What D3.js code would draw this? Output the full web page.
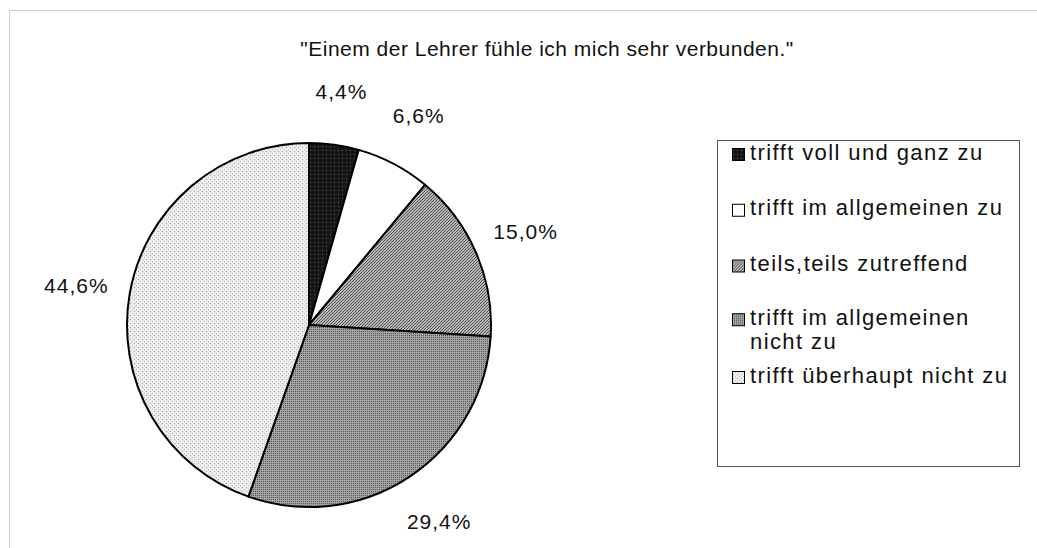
<!DOCTYPE html>
<html>
<head>
<meta charset="utf-8">
<script src="https://cdn.jsdelivr.net/npm/d3@7"></script>
<style>
  body { margin: 0; background: #fff; }
  text { font-family: "Liberation Sans", Arial, sans-serif; fill: #111; }
</style>
</head>
<body>
<script>
  // data
  var title = '"Einem der Lehrer fühle ich mich sehr verbunden."';
  var categories = ["trifft voll und ganz zu", "trifft im allgemeinen zu", "teils,teils zutreffend",
                    "trifft im allgemeinen nicht zu", "trifft überhaupt nicht zu"];
  var values = [4.4, 6.6, 15.0, 29.4, 44.6];
  var labels = ["4,4%", "6,6%", "15,0%", "29,4%", "44,6%"];
  var legendLines = [["trifft voll und ganz zu"], ["trifft im allgemeinen zu"], ["teils,teils zutreffend"],
                     ["trifft im allgemeinen", "nicht zu"], ["trifft überhaupt nicht zu"]];

  var W = 1037, H = 548;
  var cx = 309, cy = 325, r = 182;

  var svg = d3.select("body").append("svg")
      .attr("width", W)
      .attr("height", H);

  // fill textures, roughly like the scanned print
  var defs = svg.append("defs");
  function pat(id, bg, size, draw) {
    var p = defs.append("pattern")
        .attr("id", id)
        .attr("patternUnits", "userSpaceOnUse")
        .attr("width", size).attr("height", size);
    p.append("rect").attr("width", size).attr("height", size).attr("fill", bg);
    draw(p);
  }
  pat("p0", "#161616", 4, function(p) {
    p.append("rect").attr("x", 1).attr("y", 1).attr("width", 1).attr("height", 1).attr("fill", "#606060");
  });
  pat("p1", "#fff", 4, function(p) {});
  pat("p2", "#b8b8b8", 3, function(p) {
    p.append("path").attr("d", "M0,3 L3,0").attr("stroke", "#505050").attr("stroke-width", 1);
  });
  pat("p3", "#a4a4a4", 2, function(p) {
    p.append("rect").attr("width", 1).attr("height", 1).attr("fill", "#555");
  });
  pat("p4", "#ececec", 4, function(p) {
    p.append("rect").attr("x", 1).attr("y", 2).attr("width", 1).attr("height", 1).attr("fill", "#a8a8a8");
    p.append("rect").attr("x", 3).attr("y", 0).attr("width", 1).attr("height", 1).attr("fill", "#c4c4c4");
  });
  var fills = ["url(#p0)", "url(#p1)", "url(#p2)", "url(#p3)", "url(#p4)"];

  // outer frame (dotted, mostly cut off)
  svg.append("rect")
      .attr("x", 9.5).attr("y", 10.5)
      .attr("width", 1100).attr("height", 600)
      .attr("fill", "none")
      .attr("stroke", "#999")
      .attr("stroke-dasharray", "1,1");

  svg.append("text")
      .attr("x", 547).attr("y", 56)
      .attr("text-anchor", "middle")
      .style("font-size", "21px")
      .style("letter-spacing", "0.5px")
      .text(title);

  var pie = d3.pie().sort(null).value(function(d) { return d; });
  var arcs = pie(values);
  var arc = d3.arc().innerRadius(0).outerRadius(r);
  var labelArc = d3.arc().innerRadius(236).outerRadius(236);

  var g = svg.append("g").attr("transform", "translate(" + cx + "," + cy + ")");

  g.selectAll("path.slice")
    .data(arcs)
    .enter().append("path")
      .attr("class", "slice")
      .attr("d", arc)
      .attr("fill", function(d, i) { return fills[i]; })
      .attr("stroke", "#000")
      .attr("stroke-width", 2)
      .attr("stroke-linejoin", "round");

  g.selectAll("text.lbl")
    .data(arcs)
    .enter().append("text")
      .attr("class", "lbl")
      .attr("transform", function(d) { return "translate(" + labelArc.centroid(d) + ")"; })
      .attr("text-anchor", "middle")
      .attr("dy", "0.35em")
      .style("font-size", "21px")
      .style("letter-spacing", "1px")
      .text(function(d, i) { return labels[i]; });

  // legend
  var lg = svg.append("g");
  lg.append("rect")
      .attr("x", 717.5).attr("y", 140.5)
      .attr("width", 302).attr("height", 326)
      .attr("fill", "#fff")
      .attr("stroke", "#555")
      .attr("stroke-width", 1);

  var rowY = d3.scalePoint().domain(d3.range(categories.length)).range([153, 376]);

  var items = lg.selectAll("g.item")
    .data(categories)
    .enter().append("g")
      .attr("class", "item")
      .attr("transform", function(d, i) {
        var y = rowY(i) - (legendLines[i].length - 1) * 2;
        return "translate(732," + y + ")";
      });

  items.append("rect")
      .attr("x", 0.5).attr("y", -4.5)
      .attr("width", 12).attr("height", 12)
      .attr("fill", function(d, i) { return fills[i]; })
      .attr("stroke", "#000");

  items.append("text")
      .attr("x", 18).attr("y", 0)
      .style("font-size", "22px")
      .style("letter-spacing", "1.4px")
      .selectAll("tspan")
      .data(function(d, i) { return legendLines[i]; })
      .enter().append("tspan")
        .attr("x", 18)
        .attr("dy", function(d, j) { return j === 0 ? "0.3em" : "1.1em"; })
        .text(function(d) { return d; });
</script>
</body>
</html>
